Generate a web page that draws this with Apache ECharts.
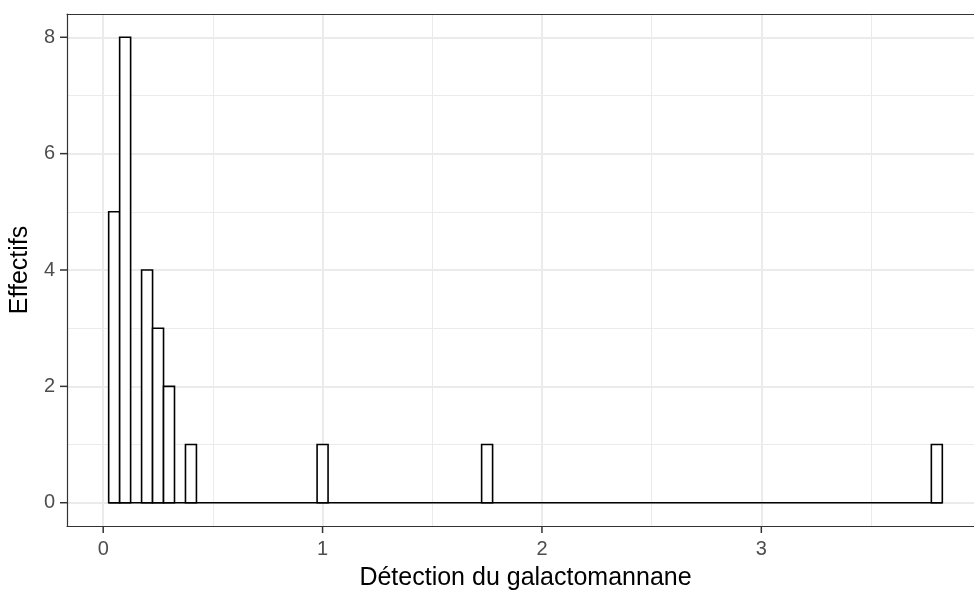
<!DOCTYPE html>
<html>
<head>
<meta charset="utf-8">
<script src="https://cdn.jsdelivr.net/npm/echarts@6/dist/echarts.min.js"></script>
<style>
html,body{margin:0;padding:0;background:#fff;}
#chart{width:974px;height:594px;}
</style>
</head>
<body>
<div id="chart"></div>
<script>
// Histogram data (bin centres, counts), bin width 0.05
var binWidth = 0.05;
var binCenters = [0.05, 0.10, 0.20, 0.25, 0.30, 0.40, 1.00, 1.75, 3.80];
var counts     = [5,    8,    4,    3,    2,    1,    1,    1,    1];
// first and last bin edges of the histogram (zero-count bins form the baseline)
var firstEdge = 0.025;
var lastEdge = 3.825;

var xMajorTicks = [0, 1, 2, 3, 4];
var xMinorTicks = [0.5, 1.5, 2.5, 3.5];
var yMajorTicks = [0, 2, 4, 6, 8];
var yMinorTicks = [1, 3, 5, 7];

var xTitle = 'Détection du galactomannane';
var yTitle = 'Effectifs';

var xMin = -0.165, xMax = 4.015;
var yMin = -0.4, yMax = 8.4;

var barData = binCenters.map(function (c, i) {
  return [c - binWidth / 2, c + binWidth / 2, counts[i]];
});

var FONT = "'Liberation Sans', Arial, sans-serif";
var gridColor = '#EBEBEB';
var axisColor = '#333333';
var TICK_LEN = 7;

var chart = echarts.init(document.getElementById('chart'));
chart.setOption({
  animation: false,
  grid: {left: 67, top: 14, width: 917, height: 512, outerBoundsMode: 'none'},
  xAxis: [{
    type: 'value', min: xMin, max: xMax,
    name: xTitle, nameLocation: 'middle', nameGap: 40,
    nameTextStyle: {color: '#000', fontSize: 25, fontFamily: FONT},
    axisLine: {show: true, onZero: false, lineStyle: {color: axisColor, width: 1.2}},
    axisTick: {show: false, customValues: xMajorTicks},
    axisLabel: {color: '#4D4D4D', fontSize: 20, fontFamily: FONT, margin: 13, customValues: xMajorTicks},
    splitLine: {show: true, lineStyle: {color: gridColor, width: 2}}
  }, {
    type: 'value', min: xMin, max: xMax, position: 'top',
    axisLine: {show: true, onZero: false, lineStyle: {color: axisColor, width: 1.2}},
    axisTick: {show: false, customValues: xMinorTicks},
    axisLabel: {show: false, customValues: xMinorTicks},
    splitLine: {show: true, lineStyle: {color: gridColor, width: 1}}
  }],
  yAxis: [{
    type: 'value', min: yMin, max: yMax,
    name: yTitle, nameLocation: 'middle', nameGap: 29, nameRotate: 90,
    nameTextStyle: {color: '#000', fontSize: 25, fontFamily: FONT},
    axisLine: {show: true, onZero: false, lineStyle: {color: axisColor, width: 1.2}},
    axisTick: {show: false, customValues: yMajorTicks},
    axisLabel: {color: '#4D4D4D', fontSize: 20, fontFamily: FONT, margin: 12, customValues: yMajorTicks},
    splitLine: {show: true, lineStyle: {color: gridColor, width: 2}}
  }, {
    type: 'value', min: yMin, max: yMax, position: 'right',
    axisLine: {show: true, onZero: false, lineStyle: {color: axisColor, width: 1.2}},
    axisTick: {show: false, customValues: yMinorTicks},
    axisLabel: {show: false, customValues: yMinorTicks},
    splitLine: {show: true, lineStyle: {color: gridColor, width: 1}}
  }],
  series: [{
    type: 'line',
    xAxisIndex: 0, yAxisIndex: 0,
    data: [[firstEdge, 0], [lastEdge, 0]],
    symbol: 'none',
    lineStyle: {color: '#000', width: 1.6},
    z: 2,
    silent: true
  }, {
    type: 'custom',
    xAxisIndex: 0, yAxisIndex: 0,
    data: barData,
    z: 3,
    renderItem: function (params, api) {
      var p0 = api.coord([api.value(0), api.value(2)]);
      var p1 = api.coord([api.value(1), 0]);
      return {
        type: 'rect',
        shape: {x: p0[0], y: p0[1], width: p1[0] - p0[0], height: p1[1] - p0[1]},
        style: {fill: '#ffffff', stroke: '#000000', lineWidth: 1.6}
      };
    },
    encode: {x: [0, 1], y: 2}
  }, {
    // x-axis tick marks, placed by the x scale
    type: 'custom',
    xAxisIndex: 0, yAxisIndex: 0,
    data: xMajorTicks.map(function (v) { return [v, yMin]; }),
    clip: false, silent: true, z: 4,
    encode: {x: 0, y: 1},
    renderItem: function (params, api) {
      var p = api.coord([api.value(0), api.value(1)]);
      return {
        type: 'line',
        shape: {x1: p[0], y1: p[1], x2: p[0], y2: p[1] + TICK_LEN},
        style: {stroke: axisColor, lineWidth: 1.5}
      };
    }
  }, {
    // y-axis tick marks, placed by the y scale
    type: 'custom',
    xAxisIndex: 0, yAxisIndex: 0,
    data: yMajorTicks.map(function (v) { return [xMin, v]; }),
    clip: false, silent: true, z: 4,
    encode: {x: 0, y: 1},
    renderItem: function (params, api) {
      var p = api.coord([api.value(0), api.value(1)]);
      return {
        type: 'line',
        shape: {x1: p[0] - TICK_LEN, y1: p[1], x2: p[0], y2: p[1]},
        style: {stroke: axisColor, lineWidth: 1.5}
      };
    }
  }]
});
</script>
</body>
</html>
